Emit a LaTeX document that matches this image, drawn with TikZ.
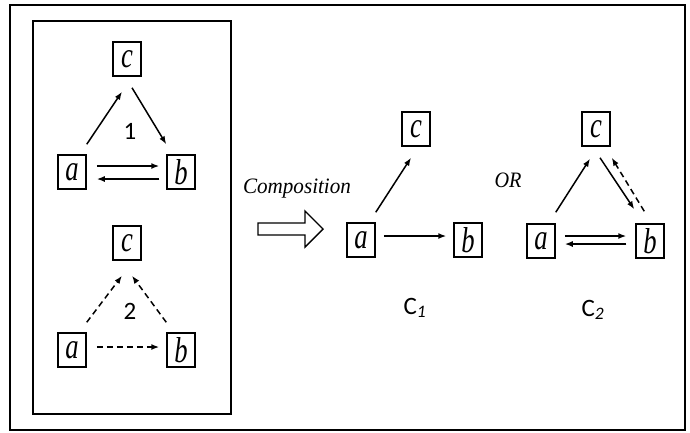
\documentclass[tikz,border=0pt]{standalone}
\usepackage{fontspec}
\usepackage{graphicx}
\newfontfamily\carl{Carlito}
\newfontfamily\tms{Liberation Serif}
\usetikzlibrary{arrows.meta}
\newcommand\vlet[1]{\scalebox{0.74}[1]{\tms\itshape #1}}
\tikzset{
  vbox/.style={draw,line width=1.5pt,minimum width=28pt,minimum height=34pt,inner sep=0pt,font=\fontsize{36}{38}\selectfont},
  arr/.style={line width=1.5pt,-{Latex[length=8pt,width=6pt]}},
  darr/.style={arr,dash pattern=on 6pt off 4pt},
  lbl/.style={font=\carl\fontsize{25}{28}\selectfont},
  it/.style={font=\tms\fontsize{22}{26}\selectfont\itshape}
}
\begin{document}
\begin{tikzpicture}[x=1pt,y=-1pt]
\useasboundingbox (0,0) rectangle (690,432);
\draw[line width=1.5pt] (10,5) rectangle (685,430);
\draw[line width=1.8pt] (33,21) rectangle (231,414);
% group 1
\node[vbox] (c1) at (127,59) {\vlet{c}};
\node[vbox] (a1) at (72,172) {\vlet{a}};
\node[vbox] (b1) at (181,172) {\vlet{b}};
\node[lbl] (n1) at (130,131) {1};
\draw[arr] ([shift={(0,-10)}]a1.north east) -- ([shift={(-5,15)}]c1.south);
\draw[arr] ([shift={(5,11)}]c1.south) -- ([shift={(0,-10)}]b1.north west);
\draw[arr] ([shift={(10,-6)}]a1.east) -- ([shift={(-7,-6)}]b1.west);
\draw[arr] ([shift={(-7,7)}]b1.west) -- ([shift={(10,7)}]a1.east);
% group 2
\node[vbox] (c2) at (127,243) {\vlet{c}};
\node[vbox] (a2) at (72,350) {\vlet{a}};
\node[vbox] (b2) at (181,350) {\vlet{b}};
\node[lbl] (n2) at (130,311) {2};
\draw[darr] ([shift={(0,-10)}]a2.north east) -- ([shift={(-5,15)}]c2.south);
\draw[darr] ([shift={(0,-10)}]b2.north west) -- ([shift={(5,15)}]c2.south);
\draw[darr] ([shift={(10,-3)}]a2.east) -- ([shift={(-7,-3)}]b2.west);
% composition
\node[it] (comp) at (297,189) {\scalebox{0.96}[1]{Composition}};
\draw[line width=1.4pt] (258,223) -- (305,223) -- (305,211) -- (323,229) -- (305,247) -- (305,235) -- (258,235) -- cycle;
% C1
\node[vbox] (c3) at (416,129) {\vlet{c}};
\node[vbox] (a3) at (361,240) {\vlet{a}};
\node[vbox] (b3) at (468,240) {\vlet{b}};
\node[lbl] (C1) at (415,308) {C\textsubscript{\itshape 1}};
\draw[arr] ([shift={(0,-10)}]a3.north east) -- ([shift={(-5,11)}]c3.south);
\draw[arr] ([shift={(8,-4)}]a3.east) -- ([shift={(-7,-4)}]b3.west);
% OR
\node[it] (or) at (508,180) {\scalebox{0.92}[1]{OR}};
% C2
\node[vbox] (c4) at (596,129) {\vlet{c}};
\node[vbox] (a4) at (541,241) {\vlet{a}};
\node[vbox] (b4) at (650,241) {\vlet{b}};
\node[lbl] (C2) at (593,310) {C\textsubscript{\itshape 2}};
\draw[arr] ([shift={(0,-11)}]a4.north east) -- ([shift={(-6,12)}]c4.south);
\draw[arr] ([shift={(4,11)}]c4.south) -- ([shift={(-1,-14)}]b4.north west);
\draw[darr] ([shift={(9,-12)}]b4.north west) -- ([shift={(1,11)}]c4.south east);
\draw[arr] ([shift={(9,-5)}]a4.east) -- ([shift={(-9,-5)}]b4.west);
\draw[arr] ([shift={(-9,3)}]b4.west) -- ([shift={(9,3)}]a4.east);
\end{tikzpicture}
\end{document}
